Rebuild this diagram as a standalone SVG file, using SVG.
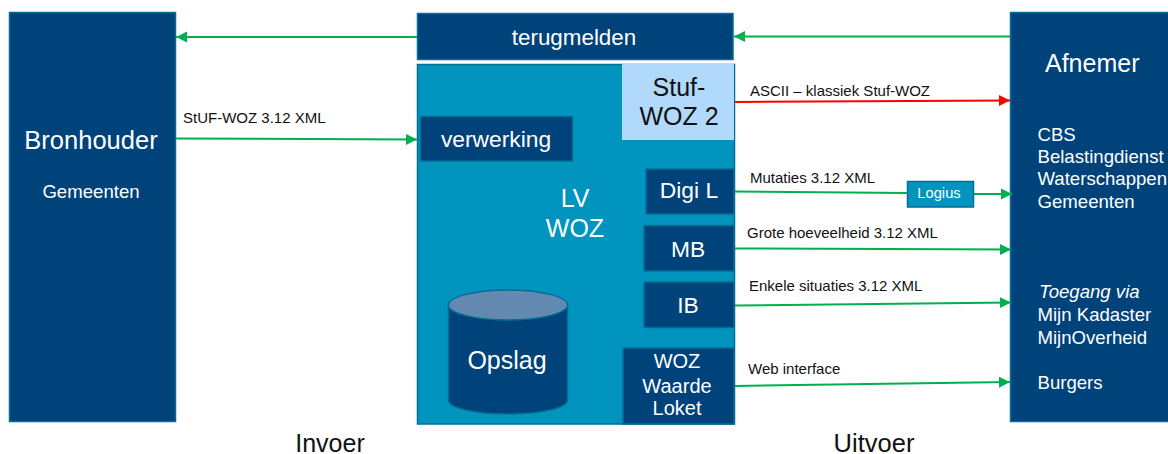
<svg xmlns="http://www.w3.org/2000/svg" width="1168" height="454" viewBox="0 0 1168 454">
<style>
text{font-family:"Liberation Sans",Arial,sans-serif;fill:#fff}
.d{fill:#00427a;stroke:#006f94;stroke-width:1.5}
.lbl{fill:#111;font-size:15px}
.big{font-size:25px}
.m{text-anchor:middle}
.s{font-size:18.6px}
.c{fill:none;stroke:#00b050;stroke-width:2}
</style>
<defs>
<marker id="g" markerUnits="userSpaceOnUse" markerWidth="12" markerHeight="12" refX="11" refY="6" orient="auto"><path d="M0 .5L11 6L0 11.5z" fill="#00b050"/></marker>
<marker id="r" markerUnits="userSpaceOnUse" markerWidth="12" markerHeight="12" refX="11" refY="6" orient="auto"><path d="M0 .5L11 6L0 11.5z" fill="#f00"/></marker>
</defs>
<rect width="1168" height="454" fill="#fff"/>
<g id="bronhouder"><rect class="d" x="9.5" y="12.5" width="166" height="409"/>
<text class="m" x="91" y="149" font-size="25.500px">Bronhouder</text><text class="s m" x="91" y="198">Gemeenten</text></g>
<g id="afnemer"><rect class="d" x="1010.500" y="12.500" width="170" height="409"/>
<text class="big" x="1045" y="72">Afnemer</text>
<g class="s"><text x="1037.500" y="140.500">CBS</text><text x="1037.500" y="162.500">Belastingdienst</text><text x="1037.500" y="185">Waterschappen</text><text x="1037.500" y="208">Gemeenten</text>
<text x="1039" y="298" font-style="italic">Toegang via</text><text x="1037.500" y="321">Mijn Kadaster</text><text x="1037.500" y="344">MijnOverheid</text><text x="1037.500" y="389">Burgers</text></g></g>
<g id="terugmelden"><rect class="d" x="417.500" y="13.500" width="315.500" height="46"/><text class="m" x="574" y="45" font-size="22.400px">terugmelden</text></g>
<g id="lvwoz"><rect x="417.500" y="64.500" width="317" height="359.500" fill="#0094bf" stroke="#006f94" stroke-width="1.500"/>
<text class="m" x="575" y="207" font-size="25px">LV</text><text class="m" x="575" y="237" font-size="25px">WOZ</text></g>
<g id="stufwoz2"><rect x="622" y="64" width="112" height="76" fill="#b1d9fb"/>
<text class="m" x="679" y="96" font-size="25px" style="fill:#111">Stuf-</text><text class="m" x="679" y="125" font-size="25px" style="fill:#111">WOZ 2</text></g>
<g id="verwerking"><rect class="d" x="420.500" y="116.500" width="152" height="44.500"/><text class="m" x="496" y="147" font-size="22.800px">verwerking</text></g>
<g id="digil"><rect class="d" x="646" y="169" width="88" height="45"/><text class="m" x="689" y="198" font-size="22.800px">Digi L</text></g>
<g id="mb"><rect class="d" x="644" y="225.500" width="90" height="45.500"/><text class="m" x="688" y="257" font-size="22.800px">MB</text></g>
<g id="ib"><rect class="d" x="644" y="282" width="90" height="45.500"/><text class="m" x="688" y="313" font-size="22.800px">IB</text></g>
<g id="loket"><rect class="d" x="623" y="348" width="111" height="76"/>
<text class="m" x="677" y="368" font-size="20px">WOZ</text><text class="m" x="677" y="393" font-size="20px">Waarde</text><text class="m" x="677" y="415" font-size="20px">Loket</text></g>
<g id="opslag"><path class="d" d="M448.500 305V400C448.500 408 475 414 508 414S567.500 408 567.500 400V305z"/>
<ellipse cx="508" cy="305" rx="59.500" ry="15" fill="#6489b0" stroke="#006f94" stroke-width="1.500"/>
<text class="m" x="507" y="369" font-size="25px">Opslag</text></g>
<g id="connectors">
<path class="c" d="M417 37H176" marker-end="url(#g)"/>
<path class="c" d="M1010 36.500H734" marker-end="url(#g)"/>
<path class="c" d="M176 138.500L417 139.500" marker-end="url(#g)"/>
<path d="M735 102L1010 100.500" fill="none" stroke="#f00" stroke-width="2" marker-end="url(#r)"/>
<path class="c" d="M735 191.500L907 193"/>
<path class="c" d="M974 194H1012" marker-end="url(#g)"/>
<path class="c" d="M735 248.500L1011 249.500" marker-end="url(#g)"/>
<path class="c" d="M735 305.500L1011 302.500" marker-end="url(#g)"/>
<path class="c" d="M735 386L1010 382" marker-end="url(#g)"/>
</g>
<g id="logius"><rect x="907.500" y="181.500" width="66" height="25.500" fill="#0094bf" stroke="#006f94" stroke-width="1.500"/><text class="m" x="939" y="198" font-size="14.700px">Logius</text></g>
<g id="labels">
<text class="lbl" x="183" y="123">StUF-WOZ 3.12 XML</text>
<text class="lbl" x="750" y="96">ASCII – klassiek Stuf-WOZ</text>
<text class="lbl" x="750" y="183">Mutaties 3.12 XML</text>
<text class="lbl" x="747" y="238">Grote hoeveelheid 3.12 XML</text>
<text class="lbl" x="749" y="291">Enkele situaties 3.12 XML</text>
<text class="lbl" x="748" y="374">Web interface</text>
<text class="m" x="330" y="452" font-size="25px" style="fill:#111">Invoer</text>
<text class="m" x="874" y="452" font-size="25.500px" style="fill:#111">Uitvoer</text>
</g>
</svg>
